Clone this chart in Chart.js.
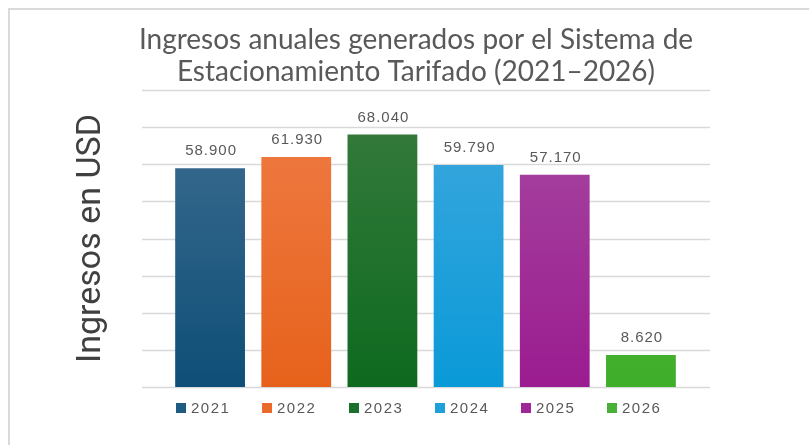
<!DOCTYPE html>
<html>
<head>
<meta charset="utf-8">
<script src="https://cdn.jsdelivr.net/npm/chart.js@4"></script>
<style>
  html, body { margin: 0; padding: 0; background: #fff; overflow: hidden; }
  #wrap { position: relative; width: 809px; height: 445px; }
  #frame { position: absolute; left: 8px; top: 8px; width: 820px; height: 460px; border: 2px solid #dadada; }
  canvas { position: absolute; left: 0; top: 0; }
</style>
</head>
<body>
<div id="wrap">
  <div id="frame"></div>
  <canvas id="ingresosChart" width="809" height="445"></canvas>
</div>
<script>
var years = ["2021", "2022", "2023", "2024", "2025", "2026"];
var ingresos = [58900, 61930, 68040, 59790, 57170, 8620];
var yMax = 80000;
var yStep = 10000;

var topColors = ["#416f92", "#f07d48", "#387b3e", "#40a8de", "#a64aa1", "#5cb64a"];
var bottomColors = ["#0e4e77", "#e6621b", "#0e6a1f", "#0a9ad8", "#9b1c90", "#3fae2a"];
var legendColors = ["#1f5a82", "#ea6a2a", "#1b6e2b", "#1ea0da", "#9e2696", "#48b036"];

var labelFont = "15px 'Liberation Sans', Arial, sans-serif";

function formatES(n) {
  return String(n).replace(/\B(?=(\d{3})+(?!\d))/g, ".");
}

function barGradient(ctx) {
  var chart = ctx.chart;
  var area = chart.chartArea;
  if (!area) return topColors[ctx.dataIndex];
  var el = chart.getDatasetMeta(0).data[ctx.dataIndex];
  var top = el && isFinite(el.y) ? el.y : area.top;
  var g = chart.ctx.createLinearGradient(0, top, 0, area.bottom);
  g.addColorStop(0, topColors[ctx.dataIndex]);
  g.addColorStop(1, bottomColors[ctx.dataIndex]);
  return g;
}

// horizontal grid lines, a bit wider than the bars
var wideGrid = {
  id: "wideGrid",
  beforeDatasetsDraw: function (chart) {
    var c = chart.ctx, y = chart.scales.y, a = chart.chartArea;
    c.save();
    c.strokeStyle = "#d9d9d9";
    c.lineWidth = 1.3;
    for (var v = 0; v <= yMax; v += yStep) {
      var py = Math.round(y.getPixelForValue(v)) + 0.5;
      c.beginPath();
      c.moveTo(a.left - 25, py);
      c.lineTo(a.right + 26, py);
      c.stroke();
    }
    c.restore();
  }
};

// values above the bars
var valueLabels = {
  id: "valueLabels",
  afterDatasetsDraw: function (chart) {
    var c = chart.ctx;
    c.save();
    c.font = labelFont;
    c.letterSpacing = "1px";
    c.fillStyle = "#595959";
    c.textAlign = "center";
    c.textBaseline = "middle";
    chart.getDatasetMeta(0).data.forEach(function (bar, i) {
      c.fillText(formatES(ingresos[i]), bar.x + 1, bar.y - 17);
    });
    c.restore();
  }
};

// legend keys under each bar's left edge
var yearLegend = {
  id: "yearLegend",
  afterDraw: function (chart) {
    var c = chart.ctx;
    var ly = chart.chartArea.bottom + 21;
    c.save();
    c.font = labelFont;
    c.letterSpacing = "1.5px";
    c.textBaseline = "middle";
    c.textAlign = "left";
    chart.getDatasetMeta(0).data.forEach(function (bar, i) {
      var x0 = Math.round(bar.x - bar.width / 2) + 1;
      c.fillStyle = legendColors[i];
      c.fillRect(x0, ly - 5, 10, 10);
      c.fillStyle = "#595959";
      c.fillText(years[i], x0 + 15, ly + 1);
    });
    c.restore();
  }
};

new Chart(document.getElementById("ingresosChart"), {
  type: "bar",
  data: {
    labels: years,
    datasets: [
      {
        label: "Ingresos",
        data: ingresos,
        backgroundColor: barGradient,
        borderWidth: 0,
        barPercentage: 0.9,
        categoryPercentage: 0.9,
      },
    ],
  },
  options: {
    responsive: false,
    animation: false,
    layout: {
      padding: { left: 23, right: 0, top: 0, bottom: 58 },
    },
    scales: {
      x: {
        display: false,
      },
      y: {
        min: 0,
        max: yMax,
        ticks: { display: false, stepSize: yStep },
        grid: { display: false },
        border: { display: false },
        title: {
          display: true,
          text: "Ingresos en USD",
          color: "#404040",
          font: { family: "Roboto", size: 34, weight: "normal" },
          padding: { top: 48, bottom: 4 },
        },
        afterFit: function (scale) {
          scale.width = 144;
        },
      },
      yRight: {
        position: "right",
        min: 0,
        max: 1,
        ticks: { display: false },
        grid: { display: false },
        border: { display: false },
        afterFit: function (scale) {
          scale.width = 125;
        },
      },
    },
    plugins: {
      title: {
        display: true,
        text: ["Ingresos anuales generados por el Sistema de", "Estacionamiento Tarifado (2021\u20132026)"],
        color: "#595959",
        font: { family: "Lato", size: 28, weight: "normal", lineHeight: 1.143 },
        padding: { top: 24, bottom: 2 },
      },
      legend: { display: false },
      tooltip: { enabled: false },
    },
  },
  plugins: [wideGrid, valueLabels, yearLegend],
});
</script>
</body>
</html>
